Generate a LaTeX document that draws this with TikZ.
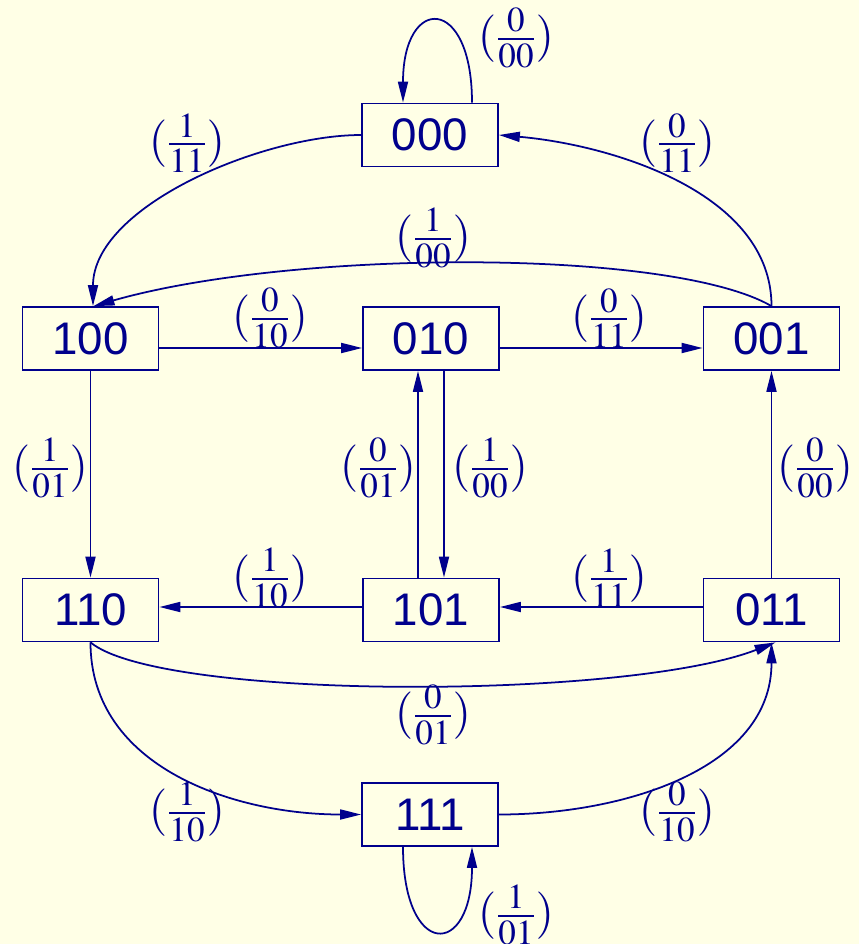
\documentclass[tikz,border=0pt]{standalone}
\usepackage{mathptmx}
\usepackage{fontspec}
\setmainfont{Liberation Serif}
\newfontfamily\statefont{Liberation Sans}
\usetikzlibrary{arrows.meta, positioning}
\definecolor{bgyellow}{RGB}{255,255,230}
\definecolor{navy}{RGB}{0,0,140}
\tikzset{
    statebox/.style={draw=navy, line width=1pt, minimum width=2.72cm, minimum height=1.26cm, inner sep=0pt, text=navy, font=\statefont\fontsize{26}{28}\selectfont},
    trans/.style={draw=navy, line width=1pt, -{Triangle[length=4.2mm, width=2mm]}},
    lbl/.style={text=navy, inner sep=0pt, font=\fontsize{27}{30}\selectfont},
}
\newcommand{\lab}[2]{$(\frac{#1}{#2})$}

\begin{document}
\begin{tikzpicture}
    \useasboundingbox (0,0) rectangle (17.18,-18.88);
    \fill[bgyellow] (0,0) rectangle (17.18,-18.88);
    % states
    \node[statebox] (s000) at (8.6,-2.7)    {000};
    \node[statebox] (s100) at (1.81,-6.77)  {100};
    \node[statebox] (s010) at (8.62,-6.77)  {010};
    \node[statebox] (s001) at (15.43,-6.77) {001};
    \node[statebox] (s110) at (1.81,-12.2)  {110};
    \node[statebox] (s101) at (8.62,-12.2)  {101};
    \node[statebox] (s011) at (15.43,-12.2) {011};
    \node[statebox] (s111) at (8.6,-16.29)  {111};
    % transitions
    \draw[trans] ([xshift=0.84cm]s000.north) .. controls +(0,2.16) and +(0,2.16) .. ([xshift=-0.54cm]s000.north);
    \draw[trans] (s000.west) to[out=180, in=90, looseness=0.8] ([xshift=0.05cm]s100.north);
    \draw[trans] (s001.north) to[out=90, in=-5, looseness=0.9] (s000.east);
    \draw[trans] (s001.north) .. controls +(-2.0,1.16) and +(4.0,1.14) .. ([xshift=0.06cm]s100.north);
    \draw[trans] ([yshift=-0.19cm]s100.east) -- ([yshift=-0.19cm]s010.west);
    \draw[trans] ([yshift=-0.19cm]s010.east) -- ([yshift=-0.19cm]s001.west);
    \draw[trans] (s100) -- (s110);
    \draw[trans] ([xshift=-0.26cm]s101.north) -- ([xshift=-0.26cm]s010.south);
    \draw[trans] ([xshift=0.26cm]s010.south) -- ([xshift=0.26cm]s101.north);
    \draw[trans] (s011) -- (s001);
    \draw[trans] ([yshift=0.06cm]s101.west) -- ([yshift=0.06cm]s110.east);
    \draw[trans] ([yshift=0.06cm]s011.west) -- ([yshift=0.06cm]s101.east);
    \draw[trans] (s110.south) .. controls +(1.4,-1.16) and +(-3.0,-1.16) .. ([xshift=0.08cm]s011.south);
    \draw[trans] (s110.south) to[out=-90, in=180] (s111.west);
    \draw[trans] (s111.east) to[out=0, in=-90] (s011.south);
    \draw[trans] ([xshift=-0.54cm]s111.south) .. controls +(0,-2.24) and +(0,-2.24) .. ([xshift=0.84cm]s111.south);
    % labels
    \node[lbl] (l1)  at (10.32,-0.76)  {\lab{0}{00}};
    \node[lbl] (l2)  at (3.74,-2.86)   {\lab{1}{11}};
    \node[lbl] (l3)  at (13.54,-2.86)  {\lab{0}{11}};
    \node[lbl] (l4)  at (8.66,-4.76)   {\lab{1}{00}};
    \node[lbl] (l5)  at (5.4,-6.36)    {\lab{0}{10}};
    \node[lbl] (l6)  at (12.18,-6.36)  {\lab{0}{11}};
    \node[lbl] (l7)  at (1.0,-9.36)    {\lab{1}{01}};
    \node[lbl] (l8)  at (7.56,-9.36)   {\lab{0}{01}};
    \node[lbl] (l9)  at (9.8,-9.36)    {\lab{1}{00}};
    \node[lbl] (l10) at (16.3,-9.36)   {\lab{0}{00}};
    \node[lbl] (l11) at (5.4,-11.56)   {\lab{1}{10}};
    \node[lbl] (l12) at (12.18,-11.56) {\lab{1}{11}};
    \node[lbl] (l13) at (8.66,-14.3)   {\lab{0}{01}};
    \node[lbl] (l14) at (3.74,-16.24)  {\lab{1}{10}};
    \node[lbl] (l15) at (13.54,-16.24) {\lab{0}{10}};
    \node[lbl] (l16) at (10.32,-18.3)  {\lab{1}{01}};
\end{tikzpicture}
\end{document}
